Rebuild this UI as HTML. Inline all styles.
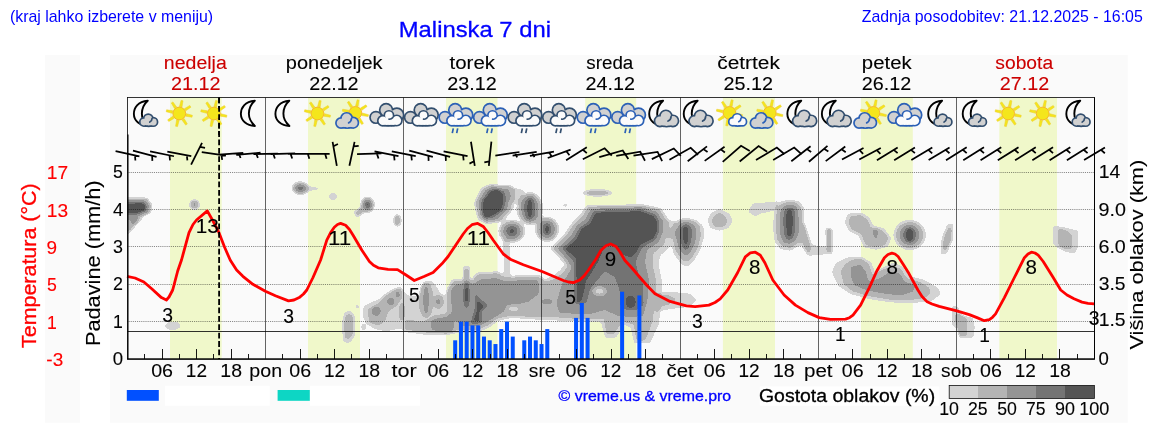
<!DOCTYPE html>
<html lang="sl"><head><meta charset="utf-8"><title>Malinska 7 dni</title>
<style>html,body{margin:0;padding:0;background:#fff;}body{width:1152px;height:443px;overflow:hidden;position:relative;}svg{position:absolute;left:0;top:0;display:block;will-change:transform;opacity:0.999;}text{font-family:"Liberation Sans",sans-serif;}</style></head><body>
<svg width="1152" height="443" viewBox="0 0 1152 443">
<defs>
<filter id="cf2" x="0" y="0" width="1152" height="443" filterUnits="userSpaceOnUse" color-interpolation-filters="sRGB">
<feGaussianBlur stdDeviation="1.3"/>
<feColorMatrix type="matrix" values="0 0 0 1 0  0 0 0 1 0  0 0 0 1 0  0 0 0 1 0"/>
<feComponentTransfer><feFuncR type="discrete" tableValues="1.0000 1.0000 0.8275 0.8275 0.8275 0.7059 0.7059 0.7059 0.7059 0.7059 0.5804 0.5804 0.5804 0.5804 0.5804 0.4549 0.4549 0.4549 0.3333 0.3333"/><feFuncG type="discrete" tableValues="1.0000 1.0000 0.8275 0.8275 0.8275 0.7059 0.7059 0.7059 0.7059 0.7059 0.5804 0.5804 0.5804 0.5804 0.5804 0.4549 0.4549 0.4549 0.3333 0.3333"/><feFuncB type="discrete" tableValues="1.0000 1.0000 0.8275 0.8275 0.8275 0.7059 0.7059 0.7059 0.7059 0.7059 0.5804 0.5804 0.5804 0.5804 0.5804 0.4549 0.4549 0.4549 0.3333 0.3333"/><feFuncA type="discrete" tableValues="0 0 1 1 1 1 1 1 1 1 1 1 1 1 1 1 1 1 1 1"/></feComponentTransfer>
</filter>
<clipPath id="pc"><rect x="127.5" y="97.5" width="967" height="261.5"/></clipPath>
<g id="moon"><path d="M 6.4,-12.8 C -3.5,-12.3 -7.6,-5.5 -7.5,0.5 C -7.4,7 -2,12.0 6.5,12.5 C 2.0,8.3 0.4,4 0.5,0 C 0.6,-5 2.4,-9.3 6.4,-12.8 Z" fill="none" stroke="#000" stroke-width="1.9" stroke-linejoin="round"/></g>
<g id="sun"><polygon points="2.71,-6.48 3.72,-12.7 1.77,-13.12 0.16,-7.02" fill="#f4e61c" stroke="#ecca2c" stroke-width="0.5" stroke-linejoin="round"/><polygon points="6.49,-2.67 11.62,-6.35 10.53,-8.03 5.08,-4.85" fill="#f4e61c" stroke="#ecca2c" stroke-width="0.5" stroke-linejoin="round"/><polygon points="6.48,2.71 12.7,3.72 13.12,1.77 7.02,0.16" fill="#f4e61c" stroke="#ecca2c" stroke-width="0.5" stroke-linejoin="round"/><polygon points="2.67,6.49 6.35,11.62 8.03,10.53 4.85,5.08" fill="#f4e61c" stroke="#ecca2c" stroke-width="0.5" stroke-linejoin="round"/><polygon points="-2.71,6.48 -3.72,12.7 -1.77,13.12 -0.16,7.02" fill="#f4e61c" stroke="#ecca2c" stroke-width="0.5" stroke-linejoin="round"/><polygon points="-6.49,2.67 -11.62,6.35 -10.53,8.03 -5.08,4.85" fill="#f4e61c" stroke="#ecca2c" stroke-width="0.5" stroke-linejoin="round"/><polygon points="-6.48,-2.71 -12.7,-3.72 -13.12,-1.77 -7.02,-0.16" fill="#f4e61c" stroke="#ecca2c" stroke-width="0.5" stroke-linejoin="round"/><polygon points="-2.67,-6.49 -6.35,-11.62 -8.03,-10.53 -4.85,-5.08" fill="#f4e61c" stroke="#ecca2c" stroke-width="0.5" stroke-linejoin="round"/><circle cx="0" cy="0" r="6.4" fill="#f4e61c" stroke="#f6a91e" stroke-width="0.8"/></g>
<g id="moonsc"><g transform="translate(-3.4,0)"><path d="M 6.4,-12.8 C -3.5,-12.3 -7.6,-5.5 -7.5,0.5 C -7.4,7 -2,12.0 6.5,12.5 C 2.0,8.3 0.4,4 0.5,0 C 0.6,-5 2.4,-9.3 6.4,-12.8 Z" fill="none" stroke="#000" stroke-width="1.9" stroke-linejoin="round"/></g><g transform="translate(3.9,6.7)"><circle cx="-4.75" cy="1.87" r="3.31" fill="#324e6e" stroke="#324e6e" stroke-width="3.4"/><circle cx="-0.43" cy="-1.58" r="3.74" fill="#324e6e" stroke="#324e6e" stroke-width="3.4"/><circle cx="4.61" cy="1.73" r="3.46" fill="#324e6e" stroke="#324e6e" stroke-width="3.4"/><circle cx="0" cy="2.59" r="2.74" fill="#324e6e" stroke="#324e6e" stroke-width="3.4"/><circle cx="-2.16" cy="2.3" r="2.74" fill="#324e6e" stroke="#324e6e" stroke-width="3.4"/><circle cx="2.16" cy="2.3" r="2.74" fill="#324e6e" stroke="#324e6e" stroke-width="3.4"/><circle cx="-4.75" cy="1.87" r="3.31" fill="#d1d1d1"/><circle cx="-0.43" cy="-1.58" r="3.74" fill="#d1d1d1"/><circle cx="4.61" cy="1.73" r="3.46" fill="#d1d1d1"/><circle cx="0" cy="2.59" r="2.74" fill="#d1d1d1"/><circle cx="-2.16" cy="2.3" r="2.74" fill="#d1d1d1"/><circle cx="2.16" cy="2.3" r="2.74" fill="#d1d1d1"/><path d="M 3.31,-1.48 A 3.74,3.74 0 0 1 1.11,1.83" fill="none" stroke="#324e6e" stroke-width="1.7" stroke-linecap="round"/></g></g>
<g id="moonbc"><g transform="translate(-6.1,0)"><path d="M 6.4,-12.8 C -3.5,-12.3 -7.6,-5.5 -7.5,0.5 C -7.4,7 -2,12.0 6.5,12.5 C 2.0,8.3 0.4,4 0.5,0 C 0.6,-5 2.4,-9.3 6.4,-12.8 Z" fill="none" stroke="#000" stroke-width="1.9" stroke-linejoin="round"/></g><g transform="translate(3.7,5.0)"><circle cx="-6.6" cy="2.6" r="4.6" fill="#324e6e" stroke="#324e6e" stroke-width="3.4"/><circle cx="-0.6" cy="-2.2" r="5.2" fill="#324e6e" stroke="#324e6e" stroke-width="3.4"/><circle cx="6.4" cy="2.4" r="4.8" fill="#324e6e" stroke="#324e6e" stroke-width="3.4"/><circle cx="0" cy="3.6" r="3.8" fill="#324e6e" stroke="#324e6e" stroke-width="3.4"/><circle cx="-3" cy="3.2" r="3.8" fill="#324e6e" stroke="#324e6e" stroke-width="3.4"/><circle cx="3" cy="3.2" r="3.8" fill="#324e6e" stroke="#324e6e" stroke-width="3.4"/><circle cx="-6.6" cy="2.6" r="4.6" fill="#d1d1d1"/><circle cx="-0.6" cy="-2.2" r="5.2" fill="#d1d1d1"/><circle cx="6.4" cy="2.4" r="4.8" fill="#d1d1d1"/><circle cx="0" cy="3.6" r="3.8" fill="#d1d1d1"/><circle cx="-3" cy="3.2" r="3.8" fill="#d1d1d1"/><circle cx="3" cy="3.2" r="3.8" fill="#d1d1d1"/><path d="M 4.6,-2.05 A 5.2,5.2 0 0 1 1.54,2.54" fill="none" stroke="#324e6e" stroke-width="1.7" stroke-linecap="round"/></g></g>
<g id="suncl"><g transform="translate(3.4,-0.6)"><use href="#sun" xlink:href="#sun"/></g><g transform="translate(-4.8,7.0)"><circle cx="-6.14" cy="2.42" r="4.28" fill="#2b60b6" stroke="#2b60b6" stroke-width="3.4"/><circle cx="-0.56" cy="-2.05" r="4.84" fill="#2b60b6" stroke="#2b60b6" stroke-width="3.4"/><circle cx="5.95" cy="2.23" r="4.46" fill="#2b60b6" stroke="#2b60b6" stroke-width="3.4"/><circle cx="0" cy="3.35" r="3.53" fill="#2b60b6" stroke="#2b60b6" stroke-width="3.4"/><circle cx="-2.79" cy="2.98" r="3.53" fill="#2b60b6" stroke="#2b60b6" stroke-width="3.4"/><circle cx="2.79" cy="2.98" r="3.53" fill="#2b60b6" stroke="#2b60b6" stroke-width="3.4"/><circle cx="-6.14" cy="2.42" r="4.28" fill="#d1d1d1"/><circle cx="-0.56" cy="-2.05" r="4.84" fill="#d1d1d1"/><circle cx="5.95" cy="2.23" r="4.46" fill="#d1d1d1"/><circle cx="0" cy="3.35" r="3.53" fill="#d1d1d1"/><circle cx="-2.79" cy="2.98" r="3.53" fill="#d1d1d1"/><circle cx="2.79" cy="2.98" r="3.53" fill="#d1d1d1"/><path d="M 4.28,-1.91 A 4.84,4.84 0 0 1 1.43,2.36" fill="none" stroke="#2b60b6" stroke-width="1.7" stroke-linecap="round"/></g></g>
<g id="sunwc"><g transform="translate(-2.4,-0.6)"><use href="#sun" xlink:href="#sun"/></g><g transform="translate(5.75,6.4)"><circle cx="-4.75" cy="1.87" r="3.31" fill="#2b60b6" stroke="#2b60b6" stroke-width="3.4"/><circle cx="-0.43" cy="-1.58" r="3.74" fill="#2b60b6" stroke="#2b60b6" stroke-width="3.4"/><circle cx="4.61" cy="1.73" r="3.46" fill="#2b60b6" stroke="#2b60b6" stroke-width="3.4"/><circle cx="0" cy="2.59" r="2.74" fill="#2b60b6" stroke="#2b60b6" stroke-width="3.4"/><circle cx="-2.16" cy="2.3" r="2.74" fill="#2b60b6" stroke="#2b60b6" stroke-width="3.4"/><circle cx="2.16" cy="2.3" r="2.74" fill="#2b60b6" stroke="#2b60b6" stroke-width="3.4"/><circle cx="-4.75" cy="1.87" r="3.31" fill="#fbfbfb"/><circle cx="-0.43" cy="-1.58" r="3.74" fill="#fbfbfb"/><circle cx="4.61" cy="1.73" r="3.46" fill="#fbfbfb"/><circle cx="0" cy="2.59" r="2.74" fill="#fbfbfb"/><circle cx="-2.16" cy="2.3" r="2.74" fill="#fbfbfb"/><circle cx="2.16" cy="2.3" r="2.74" fill="#fbfbfb"/><path d="M 3.31,-1.48 A 3.74,3.74 0 0 1 1.11,1.83" fill="none" stroke="#2b60b6" stroke-width="1.7" stroke-linecap="round"/></g></g>
<g id="ovn"><circle cx="-10.6" cy="3.9" r="5" fill="#324e6e" stroke="#324e6e" stroke-width="3.4"/><circle cx="-0.4" cy="-3.4" r="5.6" fill="#324e6e" stroke="#324e6e" stroke-width="3.4"/><circle cx="10.3" cy="1.4" r="6" fill="#324e6e" stroke="#324e6e" stroke-width="3.4"/><circle cx="0" cy="4.6" r="5.2" fill="#324e6e" stroke="#324e6e" stroke-width="3.4"/><circle cx="5" cy="2" r="5" fill="#324e6e" stroke="#324e6e" stroke-width="3.4"/><circle cx="-10.6" cy="3.9" r="5" fill="#d1d1d1"/><circle cx="-0.4" cy="-3.4" r="5.6" fill="#d1d1d1"/><circle cx="10.3" cy="1.4" r="6" fill="#d1d1d1"/><circle cx="0" cy="4.6" r="5.2" fill="#d1d1d1"/><circle cx="5" cy="2" r="5" fill="#d1d1d1"/><circle cx="-3.6" cy="7.2" r="4.3" fill="#324e6e" stroke="#324e6e" stroke-width="3.4"/><circle cx="2.4" cy="1.9" r="3.8" fill="#324e6e" stroke="#324e6e" stroke-width="3.4"/><circle cx="10.2" cy="7" r="4.4" fill="#324e6e" stroke="#324e6e" stroke-width="3.4"/><circle cx="3.2" cy="8" r="3.6" fill="#324e6e" stroke="#324e6e" stroke-width="3.4"/><circle cx="0" cy="8" r="3.6" fill="#324e6e" stroke="#324e6e" stroke-width="3.4"/><circle cx="6.6" cy="8" r="3.6" fill="#324e6e" stroke="#324e6e" stroke-width="3.4"/><circle cx="-3.6" cy="7.2" r="4.3" fill="#fbfbfb"/><circle cx="2.4" cy="1.9" r="3.8" fill="#fbfbfb"/><circle cx="10.2" cy="7" r="4.4" fill="#fbfbfb"/><circle cx="3.2" cy="8" r="3.6" fill="#fbfbfb"/><circle cx="0" cy="8" r="3.6" fill="#fbfbfb"/><circle cx="6.6" cy="8" r="3.6" fill="#fbfbfb"/><path d="M 6.08,4.31 A 3.8,3.8 0 0 1 2.52,5.7" fill="none" stroke="#324e6e" stroke-width="1.7" stroke-linecap="round"/></g>
<g id="ovd"><circle cx="-10.6" cy="3.9" r="5" fill="#2b60b6" stroke="#2b60b6" stroke-width="3.4"/><circle cx="-0.4" cy="-3.4" r="5.6" fill="#2b60b6" stroke="#2b60b6" stroke-width="3.4"/><circle cx="10.3" cy="1.4" r="6" fill="#2b60b6" stroke="#2b60b6" stroke-width="3.4"/><circle cx="0" cy="4.6" r="5.2" fill="#2b60b6" stroke="#2b60b6" stroke-width="3.4"/><circle cx="5" cy="2" r="5" fill="#2b60b6" stroke="#2b60b6" stroke-width="3.4"/><circle cx="-10.6" cy="3.9" r="5" fill="#d1d1d1"/><circle cx="-0.4" cy="-3.4" r="5.6" fill="#d1d1d1"/><circle cx="10.3" cy="1.4" r="6" fill="#d1d1d1"/><circle cx="0" cy="4.6" r="5.2" fill="#d1d1d1"/><circle cx="5" cy="2" r="5" fill="#d1d1d1"/><circle cx="-3.6" cy="7.2" r="4.3" fill="#2b60b6" stroke="#2b60b6" stroke-width="3.4"/><circle cx="2.4" cy="1.9" r="3.8" fill="#2b60b6" stroke="#2b60b6" stroke-width="3.4"/><circle cx="10.2" cy="7" r="4.4" fill="#2b60b6" stroke="#2b60b6" stroke-width="3.4"/><circle cx="3.2" cy="8" r="3.6" fill="#2b60b6" stroke="#2b60b6" stroke-width="3.4"/><circle cx="0" cy="8" r="3.6" fill="#2b60b6" stroke="#2b60b6" stroke-width="3.4"/><circle cx="6.6" cy="8" r="3.6" fill="#2b60b6" stroke="#2b60b6" stroke-width="3.4"/><circle cx="-3.6" cy="7.2" r="4.3" fill="#fbfbfb"/><circle cx="2.4" cy="1.9" r="3.8" fill="#fbfbfb"/><circle cx="10.2" cy="7" r="4.4" fill="#fbfbfb"/><circle cx="3.2" cy="8" r="3.6" fill="#fbfbfb"/><circle cx="0" cy="8" r="3.6" fill="#fbfbfb"/><circle cx="6.6" cy="8" r="3.6" fill="#fbfbfb"/><path d="M 6.08,4.31 A 3.8,3.8 0 0 1 2.52,5.7" fill="none" stroke="#2b60b6" stroke-width="1.7" stroke-linecap="round"/></g>
<g id="ovnr"><circle cx="-10.6" cy="3.9" r="5" fill="#324e6e" stroke="#324e6e" stroke-width="3.4"/><circle cx="-0.4" cy="-3.4" r="5.6" fill="#324e6e" stroke="#324e6e" stroke-width="3.4"/><circle cx="10.3" cy="1.4" r="6" fill="#324e6e" stroke="#324e6e" stroke-width="3.4"/><circle cx="0" cy="4.6" r="5.2" fill="#324e6e" stroke="#324e6e" stroke-width="3.4"/><circle cx="5" cy="2" r="5" fill="#324e6e" stroke="#324e6e" stroke-width="3.4"/><circle cx="-10.6" cy="3.9" r="5" fill="#d1d1d1"/><circle cx="-0.4" cy="-3.4" r="5.6" fill="#d1d1d1"/><circle cx="10.3" cy="1.4" r="6" fill="#d1d1d1"/><circle cx="0" cy="4.6" r="5.2" fill="#d1d1d1"/><circle cx="5" cy="2" r="5" fill="#d1d1d1"/><circle cx="-3.6" cy="7.2" r="4.3" fill="#324e6e" stroke="#324e6e" stroke-width="3.4"/><circle cx="2.4" cy="1.9" r="3.8" fill="#324e6e" stroke="#324e6e" stroke-width="3.4"/><circle cx="10.2" cy="7" r="4.4" fill="#324e6e" stroke="#324e6e" stroke-width="3.4"/><circle cx="3.2" cy="8" r="3.6" fill="#324e6e" stroke="#324e6e" stroke-width="3.4"/><circle cx="0" cy="8" r="3.6" fill="#324e6e" stroke="#324e6e" stroke-width="3.4"/><circle cx="6.6" cy="8" r="3.6" fill="#324e6e" stroke="#324e6e" stroke-width="3.4"/><circle cx="-3.6" cy="7.2" r="4.3" fill="#fbfbfb"/><circle cx="2.4" cy="1.9" r="3.8" fill="#fbfbfb"/><circle cx="10.2" cy="7" r="4.4" fill="#fbfbfb"/><circle cx="3.2" cy="8" r="3.6" fill="#fbfbfb"/><circle cx="0" cy="8" r="3.6" fill="#fbfbfb"/><circle cx="6.6" cy="8" r="3.6" fill="#fbfbfb"/><path d="M 6.08,4.31 A 3.8,3.8 0 0 1 2.52,5.7" fill="none" stroke="#324e6e" stroke-width="1.7" stroke-linecap="round"/><path d="M -2.3,14.8 L -3.3,19.6 M 2.1,14.8 L 1.1,19.6" stroke="#324e6e" stroke-width="1.7" fill="none"/></g>
<g id="ovdr"><circle cx="-10.6" cy="3.9" r="5" fill="#2b60b6" stroke="#2b60b6" stroke-width="3.4"/><circle cx="-0.4" cy="-3.4" r="5.6" fill="#2b60b6" stroke="#2b60b6" stroke-width="3.4"/><circle cx="10.3" cy="1.4" r="6" fill="#2b60b6" stroke="#2b60b6" stroke-width="3.4"/><circle cx="0" cy="4.6" r="5.2" fill="#2b60b6" stroke="#2b60b6" stroke-width="3.4"/><circle cx="5" cy="2" r="5" fill="#2b60b6" stroke="#2b60b6" stroke-width="3.4"/><circle cx="-10.6" cy="3.9" r="5" fill="#d1d1d1"/><circle cx="-0.4" cy="-3.4" r="5.6" fill="#d1d1d1"/><circle cx="10.3" cy="1.4" r="6" fill="#d1d1d1"/><circle cx="0" cy="4.6" r="5.2" fill="#d1d1d1"/><circle cx="5" cy="2" r="5" fill="#d1d1d1"/><circle cx="-3.6" cy="7.2" r="4.3" fill="#2b60b6" stroke="#2b60b6" stroke-width="3.4"/><circle cx="2.4" cy="1.9" r="3.8" fill="#2b60b6" stroke="#2b60b6" stroke-width="3.4"/><circle cx="10.2" cy="7" r="4.4" fill="#2b60b6" stroke="#2b60b6" stroke-width="3.4"/><circle cx="3.2" cy="8" r="3.6" fill="#2b60b6" stroke="#2b60b6" stroke-width="3.4"/><circle cx="0" cy="8" r="3.6" fill="#2b60b6" stroke="#2b60b6" stroke-width="3.4"/><circle cx="6.6" cy="8" r="3.6" fill="#2b60b6" stroke="#2b60b6" stroke-width="3.4"/><circle cx="-3.6" cy="7.2" r="4.3" fill="#fbfbfb"/><circle cx="2.4" cy="1.9" r="3.8" fill="#fbfbfb"/><circle cx="10.2" cy="7" r="4.4" fill="#fbfbfb"/><circle cx="3.2" cy="8" r="3.6" fill="#fbfbfb"/><circle cx="0" cy="8" r="3.6" fill="#fbfbfb"/><circle cx="6.6" cy="8" r="3.6" fill="#fbfbfb"/><path d="M 6.08,4.31 A 3.8,3.8 0 0 1 2.52,5.7" fill="none" stroke="#2b60b6" stroke-width="1.7" stroke-linecap="round"/><path d="M -2.3,14.8 L -3.3,19.6 M 2.1,14.8 L 1.1,19.6" stroke="#2b60b6" stroke-width="1.7" fill="none"/></g>
</defs>
<rect x="45" y="55" width="34.9" height="367.8" fill="#fafafa"/>
<rect x="110" y="55" width="1017.8" height="367.8" fill="#fafafa"/>
<rect x="170" y="97.5" width="51.7" height="261.5" fill="#f0f8ca"/>
<rect x="308" y="97.5" width="52" height="261.5" fill="#f0f8ca"/>
<rect x="446" y="97.5" width="51.5" height="261.5" fill="#f0f8ca"/>
<rect x="585.2" y="97.5" width="51" height="261.5" fill="#f0f8ca"/>
<rect x="722.9" y="97.5" width="52.1" height="261.5" fill="#f0f8ca"/>
<rect x="861" y="97.5" width="51.8" height="261.5" fill="#f0f8ca"/>
<rect x="999.3" y="97.5" width="57.7" height="261.5" fill="#f0f8ca"/>
<g clip-path="url(#pc)"><g filter="url(#cf2)" fill="#000"><polygon points="124,197.5 147,197.5 152.5,204.5 151,213.5 142,216 124,216" fill-opacity="0.18"/><polygon points="124,199 146,198.88 150.75,204.88 149.38,212.88 141,215.07 124,215.12" fill-opacity="0.24"/><polygon points="124,200.5 145,200.25 149,205.25 147.75,212.25 140,214.15 124,214.25" fill-opacity="0.4"/><polygon points="124,202 144,201.62 147.25,205.62 146.12,211.62 139,213.23 124,213.38" fill-opacity="0.53"/><polygon points="124,203.5 143,203 145.5,206 144.5,211 138,212.3 124,212.5" fill-opacity="0.83"/><polygon points="124,212 147,212 141,221 133,229 127.5,235 124,235" fill-opacity="0.18"/><polygon points="124,213 142,213 137,222 130,230 124,232" fill-opacity="0.24"/><polygon points="124,210 138.5,212 138,221 132.5,225 129.5,219 124,222" fill-opacity="0.4"/><ellipse cx="194.5" cy="204.6" rx="5.6" ry="5.6" fill-opacity="0.18"/><ellipse cx="194.5" cy="204.6" rx="3.6" ry="3.8" fill-opacity="0.24"/><ellipse cx="194.5" cy="204.6" rx="1.4" ry="2" fill-opacity="0.4"/><polygon points="163.4,326.6 168.6,321.8 177.4,321.8 181.8,326.4 176.4,329.6 172.5,330.6 168.6,329.6" fill-opacity="0.18"/><ellipse cx="300.3" cy="188.2" rx="8.8" ry="7" fill-opacity="0.18"/><ellipse cx="300.3" cy="188.2" rx="7" ry="5.4" fill-opacity="0.24"/><ellipse cx="300.3" cy="188.2" rx="5.4" ry="4" fill-opacity="0.4"/><ellipse cx="300.3" cy="188.2" rx="3.4" ry="2.2" fill-opacity="0.53"/><polygon points="305,185.5 323.5,188.6 305,192" fill-opacity="0.18"/><polygon points="333,191.8 338.6,196.8 333.4,201.4 327.6,196.4" fill-opacity="0.18"/><ellipse cx="367.6" cy="204.8" rx="7.4" ry="8.2" fill-opacity="0.18"/><ellipse cx="367.6" cy="204.8" rx="5.8" ry="6.6" fill-opacity="0.24"/><ellipse cx="367.6" cy="204.8" rx="4.4" ry="5.2" fill-opacity="0.4"/><ellipse cx="367.6" cy="204.8" rx="3" ry="3.8" fill-opacity="0.53"/><ellipse cx="367.6" cy="204.8" rx="1.2" ry="2" fill-opacity="0.83"/><polygon points="362,205 367,211 357.5,218 352.8,212.5" fill-opacity="0.18"/><polygon points="361,208.5 363.5,211.5 357.3,215.6 355.4,212.8" fill-opacity="0.24"/><polygon points="345,311.5 352,311 355.6,318 355.6,335 350,343 343.5,342.5 341.8,330 342.5,318" fill-opacity="0.18"/><polygon points="346.5,315 351,314.5 353.2,320 353,333 349,338.5 345.5,338 344.5,328 345,319" fill-opacity="0.24"/><polygon points="363.42,305.93 370.11,302.59 380.13,298.41 385.15,293.4 393.5,288.38 400.19,286.71 404.36,290.89 407.21,295.07 413.56,296.4 420.24,295.07 421.08,286.71 425.25,280.86 431.94,280.86 436.95,286.71 440.29,293.4 445.31,295.07 447.81,289.22 452.83,284.2 455.33,283.37 455.33,333.5 446.98,334.84 423.58,334.84 405.2,332.17 400.19,328.82 385.15,331.5 373.45,328.82 365.93,323.48 362.59,316.79" fill-opacity="0.18"/><polygon points="367.6,310.11 378.46,303.42 385.15,296.74 395.17,290.05 401.02,288.72 402.19,296.74 396.84,305.09 387.65,311.78 385.15,320.13 378.46,325.15 370.11,322.14" fill-opacity="0.24"/><ellipse cx="401.9" cy="311.8" rx="1" ry="1" fill-opacity="0.18"/><ellipse cx="401.9" cy="311.8" rx="2.8" ry="8.8" fill-opacity="0.24"/><ellipse cx="426.1" cy="300.1" rx="1" ry="1" fill-opacity="0.18"/><ellipse cx="426.1" cy="300.1" rx="7.2" ry="17.5" fill-opacity="0.24"/><ellipse cx="426.1" cy="300.1" rx="2.8" ry="14" fill-opacity="0.4"/><ellipse cx="426.1" cy="300.1" rx="1.1" ry="2.4" fill-opacity="0.53"/><ellipse cx="438.3" cy="301.8" rx="1" ry="1" fill-opacity="0.18"/><ellipse cx="438.3" cy="301.8" rx="5.2" ry="6.8" fill-opacity="0.24"/><ellipse cx="438.3" cy="301.8" rx="2.3" ry="2.6" fill-opacity="0.4"/><ellipse cx="438.3" cy="301.8" rx="1" ry="1.1" fill-opacity="0.53"/><polygon points="405.2,320.13 423.58,321.8 426.93,320.13 433.61,315.96 446.98,313.78 452.83,313.78 452.83,332.83 446.98,333.5 428.6,332.67 423.58,331.5 405.2,329.32" fill-opacity="0.24"/><polygon points="430.27,320.97 436.95,318.46 446.98,316.79 452.83,316.79 452.83,331.16 446.98,331.5 431.94,330.16" fill-opacity="0.4"/><ellipse cx="376.2" cy="311.2" rx="1" ry="1" fill-opacity="0.18"/><ellipse cx="376.2" cy="311.2" rx="1" ry="1" fill-opacity="0.24"/><ellipse cx="376.2" cy="311.2" rx="4.6" ry="4.8" fill-opacity="0.4"/><ellipse cx="390.7" cy="301.6" rx="1" ry="1" fill-opacity="0.18"/><ellipse cx="390.7" cy="301.6" rx="1" ry="1" fill-opacity="0.24"/><ellipse cx="390.7" cy="301.6" rx="3.6" ry="3.8" fill-opacity="0.4"/><ellipse cx="390.7" cy="301.6" rx="1.2" ry="1.2" fill-opacity="0.53"/><ellipse cx="397.7" cy="294.4" rx="1" ry="1" fill-opacity="0.18"/><ellipse cx="397.7" cy="294.4" rx="1" ry="1" fill-opacity="0.24"/><ellipse cx="397.7" cy="294.4" rx="2" ry="3" fill-opacity="0.4"/><ellipse cx="357.2" cy="306.8" rx="2.2" ry="2.2" fill-opacity="0.18"/><ellipse cx="363.6" cy="327" rx="2.6" ry="3.4" fill-opacity="0.18"/><ellipse cx="397.4" cy="220.5" rx="4.4" ry="6.4" fill-opacity="0.18"/><ellipse cx="397.4" cy="220.5" rx="2.6" ry="4.4" fill-opacity="0.24"/><polygon points="473.6,203.4 480.3,188.4 488.6,184.2 510.3,185 515.4,189.2 513.7,208.4 503.7,221.8 487,224.3 477.8,220.1" fill-opacity="0.18"/><polygon points="476.1,202.57 483,189.03 490.7,185.45 508.43,187.1 512.48,192.32 510.35,209.03 500.35,220.55 486.15,222.62 478.93,217.18" fill-opacity="0.24"/><polygon points="478.6,201.75 485.7,189.65 492.8,186.7 506.55,189.2 509.55,195.45 507,209.65 497,219.3 485.3,220.95 480.05,214.25" fill-opacity="0.4"/><polygon points="481.1,200.93 488.4,190.28 494.9,187.95 504.68,191.3 506.62,198.57 503.65,210.28 493.65,218.05 484.45,219.28 481.18,211.32" fill-opacity="0.53"/><polygon points="483.6,200.1 491.1,190.9 497,189.2 502.8,193.4 503.7,201.7 500.3,210.9 490.3,216.8 483.6,217.6 482.3,208.4" fill-opacity="0.83"/><ellipse cx="529.8" cy="208.6" rx="13.6" ry="16.6" fill-opacity="0.18"/><ellipse cx="529.8" cy="208.6" rx="11" ry="14.8" fill-opacity="0.24"/><ellipse cx="529.8" cy="208.6" rx="8.6" ry="13.2" fill-opacity="0.4"/><ellipse cx="529.8" cy="208.6" rx="6.2" ry="11.6" fill-opacity="0.53"/><ellipse cx="529.8" cy="208.6" rx="2.6" ry="9.8" fill-opacity="0.83"/><polygon points="505,186 524,190 524,204 510,203" fill-opacity="0.18"/><ellipse cx="511.9" cy="231.2" rx="13.6" ry="11.8" fill-opacity="0.18"/><ellipse cx="511.9" cy="231.2" rx="11.2" ry="9.8" fill-opacity="0.24"/><ellipse cx="511.9" cy="231.2" rx="8.8" ry="7.8" fill-opacity="0.4"/><ellipse cx="511.9" cy="231.2" rx="6.2" ry="5.8" fill-opacity="0.53"/><ellipse cx="511.9" cy="231.2" rx="2.2" ry="2.6" fill-opacity="0.83"/><ellipse cx="547.1" cy="229.3" rx="12.2" ry="12.6" fill-opacity="0.18"/><ellipse cx="547.1" cy="229.3" rx="10" ry="10.8" fill-opacity="0.24"/><ellipse cx="547.1" cy="229.3" rx="7.8" ry="8.8" fill-opacity="0.4"/><ellipse cx="547.1" cy="229.3" rx="4.8" ry="6.6" fill-opacity="0.53"/><ellipse cx="547.1" cy="229.3" rx="1.8" ry="4.2" fill-opacity="0.83"/><polygon points="534,212 545,218 545,226 535,224" fill-opacity="0.18"/><polygon points="503,238 509.5,238 510.3,276 503.7,276" fill-opacity="0.18"/><polygon points="462.7,266 470.2,266 470.2,286 462.7,286" fill-opacity="0.18"/><polygon points="464.5,269 468.6,269 468.6,286 464.5,286" fill-opacity="0.24"/><polygon points="447,288 452,279 472,278.5 476,272.5 498,271 506,275.5 540,275 546,280 546,320 530,319.5 512,318 498,321 489,328 476,333 456,333 447,329" fill-opacity="0.18"/><path d="M449,290 L454,281.5 L473,281 L477.5,275 L497,273.5 L505,278 L539,277.5 L546,282 L546,317 L530,316.5 L512,315 L497,318 L488,325 L476,330 L458,330 L450,326 Z M519.2,308.9 L518.65,310.03 L517.09,310.93 L514.85,311.43 L512.35,311.43 L510.11,310.93 L508.55,310.03 L508,308.9 L508.55,307.77 L510.11,306.87 L512.35,306.37 L514.85,306.37 L517.09,306.87 L518.65,307.77 Z" fill-rule="evenodd" fill-opacity="0.24"/><polygon points="452,292 457,284 474,283.5 480,279.5 496,278 504,281 537,279.8 539.2,284 538.8,293.7 528.6,301.8 520.2,303.8 506.8,305 503.5,312.1 495.1,317.1 487,322 476,326.5 461,326.5 454,318 453,305" fill-opacity="0.4"/><ellipse cx="547" cy="301.6" rx="1" ry="1" fill-opacity="0.18"/><ellipse cx="547" cy="301.6" rx="1" ry="1" fill-opacity="0.24"/><ellipse cx="547" cy="301.6" rx="6" ry="2.6" fill-opacity="0.4"/><ellipse cx="466.5" cy="295.5" rx="1" ry="1" fill-opacity="0.18"/><ellipse cx="466.5" cy="295.5" rx="1" ry="1" fill-opacity="0.24"/><ellipse cx="466.5" cy="295.5" rx="1" ry="1" fill-opacity="0.4"/><ellipse cx="466.5" cy="295.5" rx="3.8" ry="13.5" fill-opacity="0.53"/><ellipse cx="466.5" cy="295.5" rx="1.9" ry="7.2" fill-opacity="0.83"/><ellipse cx="466.8" cy="292.5" rx="1" ry="1" fill-opacity="0.18"/><ellipse cx="466.8" cy="292.5" rx="1" ry="1" fill-opacity="0.24"/><ellipse cx="466.8" cy="292.5" rx="1" ry="1" fill-opacity="0.4"/><ellipse cx="466.8" cy="292.5" rx="1" ry="1" fill-opacity="0.53"/><ellipse cx="466.8" cy="292.5" rx="1.6" ry="5.5" fill-opacity="0.83"/><polygon points="475,293 488.5,305.4 482,312.1 482,324 469.6,324 474,310.5" fill-opacity="0.53"/><polygon points="477,300 484.5,306 479.5,311 479.5,321 473.5,321 477,310.5" fill-opacity="0.83"/><ellipse cx="597.5" cy="192.9" rx="15.5" ry="3.8" fill-opacity="0.18"/><ellipse cx="597.5" cy="192.9" rx="11" ry="2.2" fill-opacity="0.24"/><ellipse cx="565.3" cy="205.4" rx="3.3" ry="1.3" fill-opacity="0.18"/><polygon points="586,205.2 642.5,204.3 661.5,208 668,218.5 670,232 671,246 660,256 659,266 662,280 661.5,300 659,324 650,343.5 634,343.5 630.5,327.5 624,325 616,338 605,338 601,322.5 590,322 570,321.5 546,320 546,278.5 553,275.5 560,270 564.5,264.5 558,257 549.5,248.5 564,234 572,222.5 580.5,214" fill-opacity="0.18"/><path d="M588.5,207 L642,205.8 L659.5,210 L665,219.5 L666,232 L664,244 L653,253 L652,264 L655.5,280 L655,300 L652,322 L645,340 L637,340.5 L634,324 L622,321 L613.5,334 L607,334 L604,318 L590,318.5 L570,318 L546,316 L546,282.5 L555,279 L563,273.5 L568.5,266 L563,258 L553.5,248.5 L567,235.5 L574.5,224 L583,216.5 Z M604.2,291.2 L603.74,292.41 L602.47,293.39 L600.62,293.93 L598.58,293.93 L596.73,293.39 L595.46,292.41 L595,291.2 L595.46,289.99 L596.73,289.01 L598.58,288.47 L600.62,288.47 L602.47,289.01 L603.74,289.99 Z" fill-rule="evenodd" fill-opacity="0.24"/><path d="M591,208.8 L641.5,207.3 L657.5,212 L662,220.5 L662.5,232 L659,242 L647,250 L645,262 L649,280 L647.5,300 L643,316 L632,317 L618,316 L605,310 L590,314 L570,313.5 L559,312.5 L556.5,303 L559.5,292 L562.5,283 L566.5,276.5 L572,268 L567,259.5 L557.5,248.5 L570,237 L577,225.5 L585.5,219 Z M607.2,291.2 L606.45,293.46 L604.34,295.27 L601.29,296.27 L597.91,296.27 L594.86,295.27 L592.75,293.46 L592,291.2 L592.75,288.94 L594.86,287.13 L597.91,286.13 L601.29,286.13 L604.34,287.13 L606.45,288.94 Z" fill-rule="evenodd" fill-opacity="0.4"/><polygon points="593.5,210.6 641,209 655.5,214 659.5,221 659.5,231.5 656,240 643,247.5 639,255 636,262 639,274 643.5,284 644,305 637,310.5 626,310.5 619.5,305 619,289 614,277 605,272 598,280 590,290 587,303 580,305.5 574,303 574,285 573.5,262 561.5,248.5 573,238.5 579.5,227 588,221.5" fill-opacity="0.53"/><polygon points="596,212.5 640.3,210.9 653.6,215.9 657,221.7 657,230.9 653.6,238.4 640.3,245.1 636.1,252.7 630.2,257.7 622,254 612,243 604,248 598,262 592,272 586,281 584,292 581,302 576.5,302 577,285 576,270 575.9,258.5 565.1,248.5 575.9,240.1 581.8,228.4 590.1,223.4" fill-opacity="0.83"/><ellipse cx="630.6" cy="301.6" rx="1" ry="1" fill-opacity="0.18"/><ellipse cx="630.6" cy="301.6" rx="1" ry="1" fill-opacity="0.24"/><ellipse cx="630.6" cy="301.6" rx="1" ry="1" fill-opacity="0.4"/><ellipse cx="630.6" cy="301.6" rx="1" ry="1" fill-opacity="0.53"/><ellipse cx="630.6" cy="301.6" rx="5.2" ry="6.4" fill-opacity="0.83"/><polygon points="655,293 670,291.5 690,293.5 697,300 690,307 672,309 655,312" fill-opacity="0.18"/><polygon points="655,296.5 668,295.5 676,299.5 668,304.5 655,307" fill-opacity="0.24"/><polygon points="673.42,224.24 678.44,219.23 686.79,217.56 696.82,220.07 703.5,225.92 704.34,236.78 700.16,250.15 693.48,261.84 687.63,266.86 681.78,265.19 673.42,253.49 670.08,240.12 670.08,230.09" fill-opacity="0.18"/><polygon points="675.85,225.29 679.77,221.11 686.46,219.65 694.4,221.74 699.66,226.75 700.37,236.36 697.15,247.64 691.89,257.33 687.21,261.43 682.53,260.01 675.93,250.36 673.26,239.08 673.26,230.3" fill-opacity="0.24"/><polygon points="678.27,226.33 681.11,222.99 686.12,221.74 691.97,223.41 695.82,227.59 696.4,235.94 694.14,245.13 690.3,252.82 686.79,256 683.28,254.83 678.44,247.22 676.43,238.03 676.43,230.51" fill-opacity="0.4"/><polygon points="680.69,227.38 682.45,224.87 685.79,223.83 689.55,225.08 691.97,228.42 692.43,235.52 691.14,242.63 688.71,248.31 686.37,250.56 684.03,249.65 680.94,244.09 679.61,236.99 679.61,230.72" fill-opacity="0.53"/><polygon points="683.11,228.42 683.78,226.75 685.45,225.92 687.13,226.75 688.13,229.26 688.46,235.11 688.13,240.12 687.13,243.8 685.96,245.13 684.79,244.47 683.45,240.96 682.78,235.94 682.78,230.93" fill-opacity="0.83"/><polygon points="662,219 676,221 676,238 664,238" fill-opacity="0.18"/><polygon points="719.5,208.5 729,213 733,221 728.5,228.5 719.5,231 710.5,228.5 707,220.5 711,213" fill-opacity="0.18"/><polygon points="719.5,212.8 725,216.5 727.4,221.5 724,226 719.5,227 714.5,226 711.8,221.5 714,216.5" fill-opacity="0.24"/><polygon points="752.5,203.4 779,201 777,210 760,214 755,216.5 747.8,211.7" fill-opacity="0.18"/><polygon points="773.69,213.38 776.2,205.03 782.05,200.85 790.4,199.68 798.76,200.85 803.77,206.7 804.61,220.07 804.61,235.11 800.43,245.13 790.4,250.98 780.37,249.31 774.53,241.79 772.85,228.42" fill-opacity="0.18"/><polygon points="776.86,213.38 778.91,206.61 783.63,203.15 790.23,202.19 796.92,203.23 800.93,208.16 801.64,220.07 801.56,234.06 798.09,242.84 790.15,247.52 782.21,245.97 777.53,239.08 776.2,226.33" fill-opacity="0.24"/><polygon points="780.04,213.38 781.63,208.2 785.22,205.44 790.07,204.69 795.08,205.61 798.09,209.62 798.67,220.07 798.51,233.02 795.75,240.54 789.9,244.05 784.05,242.63 780.54,236.36 779.54,224.24" fill-opacity="0.4"/><polygon points="783.22,213.38 784.34,209.79 786.81,207.74 789.9,207.2 793.24,207.99 795.25,211.08 795.71,220.07 795.46,231.97 793.41,238.24 789.65,240.58 785.89,239.28 783.55,233.64 782.88,222.16" fill-opacity="0.53"/><polygon points="786.39,213.38 787.06,211.38 788.4,210.04 789.73,209.71 791.4,210.37 792.41,212.55 792.74,220.07 792.41,230.93 791.07,235.94 789.4,237.11 787.73,235.94 786.56,230.93 786.22,220.07" fill-opacity="0.83"/><polygon points="799,222 806,226 812.5,245 827,246.4 825,229 829,227.4 832.8,229 832.8,253.8 808,256 800,244" fill-opacity="0.18"/><polygon points="801,227 804.5,229 810.5,248 809,253.5 804,246" fill-opacity="0.24"/><polygon points="826.8,229.4 831,229.4 831,251.8 826.8,251.8" fill-opacity="0.24"/><polygon points="848,213.5 862,212.5 870,218 873,225.5 884,228 891.5,238 888,247 876,250 864,247.5 858.5,236 849,231.5 844.4,222" fill-opacity="0.18"/><polygon points="851,216.5 861,215.5 867.5,220.5 870.5,228 882,230.5 888,238 885,244.5 876,246.8 866,244.5 861.5,233.5 852,229 848.6,222" fill-opacity="0.24"/><polygon points="872.4,229.3 878.4,229.3 877.5,235 875.6,240.5 873.4,235" fill-opacity="0.4"/><ellipse cx="909.6" cy="235" rx="16.4" ry="15.2" fill-opacity="0.18"/><ellipse cx="909.6" cy="235" rx="13.2" ry="12.6" fill-opacity="0.24"/><ellipse cx="909.6" cy="235" rx="10" ry="10.2" fill-opacity="0.4"/><ellipse cx="909.6" cy="235" rx="6.8" ry="8" fill-opacity="0.53"/><ellipse cx="909.6" cy="235" rx="3.8" ry="6.4" fill-opacity="0.83"/><polygon points="947.5,223.5 953.4,223.5 953,240 946.5,254.5 940.6,254.5 941.4,238" fill-opacity="0.18"/><polygon points="948.6,228 951.4,228 951,239 946,249.5 943.4,249.5 944,239" fill-opacity="0.24"/><polygon points="831.7,272 836,262.5 848,257 862,256.4 871.5,262.5 875,272 885,266 893,262.5 902,266 909,275.5 925,280 938,287.5 941,294 933,300.5 912,303.5 890,302.5 868,299 850,294 838,286" fill-opacity="0.18"/><polygon points="841.2,272 845,264.5 853,260 862,259.5 868.5,264.5 872,275.5 884,269.5 893,266.5 900.5,269 906.5,278.5 920,282.5 929,288 930.3,293.5 925,297.5 908,299.9 888,299 868,295.5 853,291 844,284" fill-opacity="0.24"/><polygon points="850.8,267 860.3,264.8 865.6,271.2 868.8,281.8 881.5,277.6 890,271.2 899.6,273.3 904.9,281.8 915.5,285 913.3,291.4 900.6,295.6 883.6,293.5 866.7,290.3 854,285 850.8,275.5" fill-opacity="0.4"/><polygon points="951.5,306.2 958,306.2 961,315.5 973,317.5 974.9,327 973.5,338 960,338 956.5,329 951.5,325" fill-opacity="0.18"/><polygon points="955.8,313.6 960.5,314.5 966.4,318.5 966.4,336 959.5,336 957.6,327 955.8,322" fill-opacity="0.24"/><polygon points="1053,226 1062,226.5 1071,229 1078.2,230.5 1078.2,248 1074,254 1066,252 1058,248.5 1053,244" fill-opacity="0.18"/><polygon points="1058,229.4 1063,229.8 1068.5,232 1072,236.5 1072,248.6 1066.5,249 1060.5,246.8 1058,243" fill-opacity="0.24"/></g></g>
<line x1="127.5" y1="321.5" x2="1094.5" y2="321.5" stroke="#000" stroke-width="1" stroke-dasharray="0.9 1.0" opacity="0.5"/>
<line x1="127.5" y1="284.5" x2="1094.5" y2="284.5" stroke="#000" stroke-width="1" stroke-dasharray="0.9 1.0" opacity="0.5"/>
<line x1="127.5" y1="246.5" x2="1094.5" y2="246.5" stroke="#000" stroke-width="1" stroke-dasharray="0.9 1.0" opacity="0.5"/>
<line x1="127.5" y1="209.5" x2="1094.5" y2="209.5" stroke="#000" stroke-width="1" stroke-dasharray="0.9 1.0" opacity="0.5"/>
<line x1="127.5" y1="172.5" x2="1094.5" y2="172.5" stroke="#000" stroke-width="1" stroke-dasharray="0.9 1.0" opacity="0.5"/>
<line x1="265.5" y1="97.5" x2="265.5" y2="359" stroke="#000" stroke-width="1" opacity="0.6"/>
<line x1="403.5" y1="97.5" x2="403.5" y2="359" stroke="#000" stroke-width="1" opacity="0.6"/>
<line x1="541.5" y1="97.5" x2="541.5" y2="359" stroke="#000" stroke-width="1" opacity="0.6"/>
<line x1="680.5" y1="97.5" x2="680.5" y2="359" stroke="#000" stroke-width="1" opacity="0.6"/>
<line x1="818.5" y1="97.5" x2="818.5" y2="359" stroke="#000" stroke-width="1" opacity="0.6"/>
<line x1="956.5" y1="97.5" x2="956.5" y2="359" stroke="#000" stroke-width="1" opacity="0.6"/>
<line x1="127.5" y1="331.5" x2="1094.5" y2="331.5" stroke="#000" stroke-width="1" opacity="0.8"/>
<rect x="453.19" y="340.31" width="4" height="18.68" fill="#0050ff"/>
<rect x="458.95" y="321.63" width="4" height="37.37" fill="#0050ff"/>
<rect x="464.7" y="321.63" width="4" height="37.37" fill="#0050ff"/>
<rect x="470.46" y="325.37" width="4" height="33.63" fill="#0050ff"/>
<rect x="476.21" y="325.37" width="4" height="33.63" fill="#0050ff"/>
<rect x="481.97" y="336.58" width="4" height="22.42" fill="#0050ff"/>
<rect x="487.72" y="340.31" width="4" height="18.68" fill="#0050ff"/>
<rect x="493.48" y="344.05" width="4" height="14.95" fill="#0050ff"/>
<rect x="499.24" y="329.1" width="4" height="29.9" fill="#0050ff"/>
<rect x="504.99" y="321.63" width="4" height="37.37" fill="#0050ff"/>
<rect x="510.75" y="336.58" width="4" height="22.42" fill="#0050ff"/>
<rect x="522.26" y="340.31" width="4" height="18.68" fill="#0050ff"/>
<rect x="528.02" y="336.58" width="4" height="22.42" fill="#0050ff"/>
<rect x="533.77" y="340.31" width="4" height="18.68" fill="#0050ff"/>
<rect x="539.53" y="344.05" width="4" height="14.95" fill="#0050ff"/>
<rect x="545.28" y="329.1" width="4" height="29.9" fill="#0050ff"/>
<rect x="574.06" y="317.89" width="4" height="41.11" fill="#0050ff"/>
<rect x="579.82" y="302.94" width="4" height="56.05" fill="#0050ff"/>
<rect x="585.58" y="317.89" width="4" height="41.11" fill="#0050ff"/>
<rect x="620.11" y="291.73" width="4" height="67.27" fill="#0050ff"/>
<rect x="637.38" y="295.47" width="4" height="63.53" fill="#0050ff"/>
<polyline points="127,276.3 135,278 143.9,282 152,289 161.4,297.6 166.4,300 169,297 172.7,290 177.7,271 181.5,260 189,232.7 193,224.5 196.5,220 207.3,210.9 213,221 219,232.7 224.5,247 230.3,260.3 236.6,270 242.9,276.3 252.9,284.3 265.4,291.3 275.4,295.8 288.5,300.9 294,300 299.2,297.6 303.5,294 306.8,290 313,277.5 320.6,260 326.8,240.2 331,232 334.3,227.2 337.5,224.5 340.6,223.4 345.6,225.2 349.5,229.5 353.1,235.2 361.9,250.2 369.4,261.5 373.5,265.3 378.2,267.8 388,269.4 397.5,269.6 406,275 414.3,280.5 424,276.5 433.1,272.5 441.9,263.8 448.1,256.5 463.2,234 467.5,228.5 472,224.7 477.7,223.4 483.2,226.4 488,232.5 493.3,240.2 503.3,254 510.8,259.5 523.3,264.8 542.1,271.5 563.4,280.5 568.5,282 573.5,282.6 579.7,280 584,276 588.5,270 596,259 601,250.2 606,245.7 610.6,244 616,246.5 620,252 624.8,260.3 632.4,268.5 640,277.5 647,285.5 655,293.8 670,301.4 686.4,305.9 695.1,306.6 708.9,305.1 715,302.5 720.2,298.8 727.7,290 737.7,272.5 745.3,256.8 750.3,252.9 755.3,252.2 760.3,255.2 765,263 772.8,280 784.1,295 795.4,305.1 807.9,312.6 819.2,317.6 830.5,319.4 845.5,319.1 849.5,317.7 853,315.1 860.6,305.1 869.3,287.6 876.8,271 884.4,257.7 888,254.5 891.9,253.2 895,254 898.1,256.5 903,264 909.1,273.8 917.9,290 922,296.5 926.7,301.4 932,304 939.2,306.4 956.7,310.9 969.3,314.6 977,317.6 984.3,320.7 989.3,319.6 992.5,317.3 995.6,313.9 1004.4,297.6 1014.4,277.5 1024.4,257.7 1028,254 1031.4,252.2 1035,253 1038.2,255.2 1043.2,261.5 1053.2,277.5 1060.7,290 1067,295 1074,298.8 1082,302.1 1088,303.3 1094.3,303.9" fill="none" stroke="#ff0000" stroke-width="2.8" stroke-linejoin="round" stroke-linecap="butt"/>
<line x1="219.1" y1="97.5" x2="219.1" y2="359" stroke="#000" stroke-width="1.8" stroke-dasharray="5.8 2.6"/>
<rect x="127.5" y="97.5" width="967" height="261.5" fill="none" stroke="#111" stroke-width="0.85"/>
<line x1="127.9" y1="134.5" x2="127.9" y2="359" stroke="#000" stroke-width="1.25"/>
<line x1="127.1" y1="359.1" x2="1094.9" y2="359.1" stroke="#000" stroke-width="1.1"/>
<line x1="1094.5" y1="97.5" x2="1094.5" y2="359" stroke="#000" stroke-width="1.0"/>
<path d="M144.5,359 v-5 M162.5,359 v-10 M179.5,359 v-5 M196.5,359 v-10 M213.5,359 v-5 M231.5,359 v-10 M248.5,359 v-5 M282.5,359 v-5 M300.5,359 v-10 M317.5,359 v-5 M334.5,359 v-10 M351.5,359 v-5 M369.5,359 v-10 M386.5,359 v-5 M421.5,359 v-5 M438.5,359 v-10 M455.5,359 v-5 M472.5,359 v-10 M490.5,359 v-5 M507.5,359 v-10 M524.5,359 v-5 M559.5,359 v-5 M576.5,359 v-10 M593.5,359 v-5 M611.5,359 v-10 M628.5,359 v-5 M645.5,359 v-10 M662.5,359 v-5 M697.5,359 v-5 M714.5,359 v-10 M731.5,359 v-5 M749.5,359 v-10 M766.5,359 v-5 M783.5,359 v-10 M800.5,359 v-5 M835.5,359 v-5 M852.5,359 v-10 M870.5,359 v-5 M887.5,359 v-10 M904.5,359 v-5 M921.5,359 v-10 M939.5,359 v-5 M973.5,359 v-5 M990.5,359 v-10 M1008.5,359 v-5 M1025.5,359 v-10 M1042.5,359 v-5 M1059.5,359 v-10 M1077.5,359 v-5" stroke="#000" stroke-width="1" fill="none" opacity="0.9"/>
<path d="M115.58,151.18 L139.42,156.42 M134.95,155.44 L135.39,160.53 M132.97,150.68 L156.56,156.92 M152.14,155.75 L152.37,160.86 M150.08,151.35 L173.99,156.25 M169.5,155.33 L170.02,160.42 M167.32,151.53 L191.29,156.07 M186.8,155.22 L187.39,160.29 M191.11,164.71 L202.03,142.89 M199.99,146.98 L205.03,147.8 M201.76,152.06 L225.91,155.54 M221.39,154.89 L222.2,159.94 M218.94,154.65 L243.28,152.95 M238.71,153.27 L240.58,158.03 M236.22,154.86 L260.53,152.74 M255.97,153.14 L257.92,157.86 M253.44,154.01 L277.84,153.59 M273.27,153.67 L274.88,158.52 M270.71,154.12 L295.11,153.48 M290.53,153.6 L292.19,158.44 M287.98,153.8 L312.38,153.8 M307.8,153.8 L309.33,158.68 M305.25,153.8 L329.65,153.8 M325.07,153.8 L326.6,158.68 M336.83,165.81 L332.6,141.79 M333.39,146.29 L337.93,143.94 M349.4,165.72 L354.56,141.88 M353.59,146.35 L358.69,145.89 M357.05,154.12 L381.45,153.48 M376.87,153.6 L378.52,158.44 M374.54,151.47 L398.49,156.13 M394,155.25 L394.57,160.34 M391.81,151.47 L415.76,156.13 M411.27,155.25 L411.84,160.34 M409.27,150.64 L432.84,156.96 M428.42,155.77 L428.63,160.88 M426.54,150.64 L450.11,156.96 M445.69,155.77 L445.9,160.88 M443.61,151.47 L467.57,156.13 M463.07,155.25 L463.64,160.34 M470.95,141.75 L474.77,165.85 M474.05,161.33 L469.47,163.6 M491.4,141.67 L488.85,165.93 M489.33,161.38 L484.32,162.39 M495.33,155.6 L519.46,152 M514.93,152.67 L517.16,157.27 M512.61,155.71 L536.71,151.89 M532.19,152.61 L534.46,157.19 M529.91,155.92 L553.94,151.68 M549.44,152.48 L551.79,157.02 M547.73,157.97 L570.66,149.63 M566.36,151.19 L569.46,155.26 M566.11,160.25 L586.82,147.35 M582.94,149.77 L586.81,153.11 M582.83,159.28 L604.63,148.32 L611.74,155.67 M599.27,157.16 L622.73,150.44 L628.35,158.98 M616.25,155.92 L640.28,151.68 L644.98,160.76 M633.49,155.71 L657.59,151.89 L662.12,161.05 M651.82,159.11 L673.79,148.49 L680.78,155.95 M669.45,159.81 L690.69,147.79 L698.15,154.79 M687.69,161.26 L706.99,146.34 M703.37,149.14 L707.56,152.07 M704.67,160.88 L724.54,146.72 M720.81,149.37 L724.89,152.46 M722.71,161.85 L741.04,145.75 L749.77,151.07 M739.66,161.48 L758.62,146.12 L767.14,151.79 M755.98,160.12 L776.85,147.48 L784.51,154.25 M773.17,159.99 L794.19,147.61 L801.77,154.47 M791.32,161.29 L810.57,146.31 M806.96,149.12 L811.16,152.03 M808.94,161.72 L827.49,145.88 M824.01,148.85 L828.34,151.57 M825.7,161.09 L845.26,146.51 M841.6,149.24 L845.73,152.24 M841.98,159.53 L863.52,148.07 M859.48,150.22 L863.12,153.81 M859.25,159.53 L880.79,148.07 M876.75,150.22 L880.39,153.81 M876.91,160.21 L897.67,147.39 M893.77,149.79 L897.63,153.14 M894.17,160.21 L914.93,147.39 M911.04,149.79 L914.9,153.14 M911.34,160.05 L932.3,147.55 M928.37,149.9 L932.18,153.31 M928.63,160.08 L949.55,147.52 M945.63,149.87 L949.45,153.27 M946.01,160.27 L966.7,147.33 M962.82,149.76 L966.7,153.09 M963.28,160.27 L983.97,147.33 M980.09,149.76 L983.97,153.09 M980.55,160.27 L1001.24,147.33 M997.36,149.76 L1001.24,153.09 M997.81,160.27 L1018.51,147.33 M1014.63,149.76 L1018.51,153.09 M1015.08,160.27 L1035.77,147.33 M1031.89,149.76 L1035.77,153.09 M1032.35,160.27 L1053.04,147.33 M1049.16,149.76 L1053.04,153.09 M1049.62,160.27 L1070.31,147.33 M1066.43,149.76 L1070.31,153.09 M1066.89,160.27 L1087.58,147.33 M1083.7,149.76 L1087.58,153.09 M1084.06,160.12 L1104.94,147.48 M1101.02,149.85 L1104.85,153.23" stroke="#000" stroke-width="1.75" fill="none" stroke-linejoin="miter"/>
<use href="#moonsc" xlink:href="#moonsc" x="144.77" y="113.5"/>
<use href="#sun" xlink:href="#sun" x="179.3" y="113.5"/>
<use href="#sun" xlink:href="#sun" x="213.84" y="113.5"/>
<use href="#moon" xlink:href="#moon" x="248.38" y="113.5"/>
<use href="#moon" xlink:href="#moon" x="282.91" y="113.5"/>
<use href="#sun" xlink:href="#sun" x="317.45" y="113.5"/>
<use href="#suncl" xlink:href="#suncl" x="351.98" y="113.5"/>
<use href="#ovn" xlink:href="#ovn" x="386.52" y="113.5"/>
<use href="#ovn" xlink:href="#ovn" x="421.05" y="113.5"/>
<use href="#ovdr" xlink:href="#ovdr" x="455.59" y="113.5"/>
<use href="#ovdr" xlink:href="#ovdr" x="490.12" y="113.5"/>
<use href="#ovnr" xlink:href="#ovnr" x="524.66" y="113.5"/>
<use href="#ovnr" xlink:href="#ovnr" x="559.2" y="113.5"/>
<use href="#ovdr" xlink:href="#ovdr" x="593.73" y="113.5"/>
<use href="#ovdr" xlink:href="#ovdr" x="628.27" y="113.5"/>
<use href="#moonbc" xlink:href="#moonbc" x="662.8" y="113.5"/>
<use href="#moonbc" xlink:href="#moonbc" x="697.34" y="113.5"/>
<use href="#sunwc" xlink:href="#sunwc" x="731.88" y="113.5"/>
<use href="#suncl" xlink:href="#suncl" x="766.41" y="113.5"/>
<use href="#moonbc" xlink:href="#moonbc" x="800.95" y="113.5"/>
<use href="#moonbc" xlink:href="#moonbc" x="835.48" y="113.5"/>
<use href="#suncl" xlink:href="#suncl" x="870.02" y="113.5"/>
<use href="#ovd" xlink:href="#ovd" x="904.55" y="113.5"/>
<use href="#moonsc" xlink:href="#moonsc" x="939.09" y="113.5"/>
<use href="#moonsc" xlink:href="#moonsc" x="973.62" y="113.5"/>
<use href="#sun" xlink:href="#sun" x="1008.16" y="113.5"/>
<use href="#sun" xlink:href="#sun" x="1042.7" y="113.5"/>
<use href="#moonsc" xlink:href="#moonsc" x="1077.23" y="113.5"/>
<line x1="219.1" y1="97.5" x2="219.1" y2="135" stroke="#000" stroke-width="1.8" stroke-dasharray="5.8 2.6"/>
<text x="9.9" y="22.3" font-size="15.9" fill="#0000ff" textLength="203.25" lengthAdjust="spacingAndGlyphs">(kraj lahko izberete v meniju)</text>
<text x="398.8" y="36.9" font-size="22" fill="#0000ff" textLength="152.16" lengthAdjust="spacingAndGlyphs" stroke="#0000ff" stroke-width="0.3">Malinska 7 dni</text>
<text x="861.68" y="22.3" font-size="15.9" fill="#0000ff" textLength="281.12" lengthAdjust="spacingAndGlyphs">Zadnja posodobitev: 21.12.2025 - 16:05</text>
<text x="163.89" y="69.3" font-size="18.02" fill="#cc0000" textLength="62.85" lengthAdjust="spacingAndGlyphs" stroke="#cc0000" stroke-width="0.1">nedelja</text>
<text x="171.01" y="89.6" font-size="18.02" fill="#cc0000" textLength="49.47" lengthAdjust="spacingAndGlyphs" stroke="#cc0000" stroke-width="0.1">21.12</text>
<text x="285.85" y="69.3" font-size="18.02" fill="#000" textLength="96.67" lengthAdjust="spacingAndGlyphs" stroke="#000" stroke-width="0.1">ponedeljek</text>
<text x="309.16" y="89.6" font-size="18.02" fill="#000" textLength="49.47" lengthAdjust="spacingAndGlyphs" stroke="#000" stroke-width="0.1">22.12</text>
<text x="449.53" y="69.3" font-size="18.02" fill="#000" textLength="45.51" lengthAdjust="spacingAndGlyphs" stroke="#000" stroke-width="0.1">torek</text>
<text x="447.3" y="89.6" font-size="18.02" fill="#000" textLength="49.47" lengthAdjust="spacingAndGlyphs" stroke="#000" stroke-width="0.1">23.12</text>
<text x="586.31" y="69.3" font-size="18.02" fill="#000" textLength="46.98" lengthAdjust="spacingAndGlyphs" stroke="#000" stroke-width="0.1">sreda</text>
<text x="585.44" y="89.6" font-size="18.02" fill="#000" textLength="49.47" lengthAdjust="spacingAndGlyphs" stroke="#000" stroke-width="0.1">24.12</text>
<text x="717.27" y="69.3" font-size="18.02" fill="#000" textLength="62.61" lengthAdjust="spacingAndGlyphs" stroke="#000" stroke-width="0.1">četrtek</text>
<text x="723.59" y="89.6" font-size="18.02" fill="#000" textLength="49.47" lengthAdjust="spacingAndGlyphs" stroke="#000" stroke-width="0.1">25.12</text>
<text x="861.89" y="69.3" font-size="18.02" fill="#000" textLength="49.77" lengthAdjust="spacingAndGlyphs" stroke="#000" stroke-width="0.1">petek</text>
<text x="861.73" y="89.6" font-size="18.02" fill="#000" textLength="49.47" lengthAdjust="spacingAndGlyphs" stroke="#000" stroke-width="0.1">26.12</text>
<text x="995.32" y="69.3" font-size="18.02" fill="#cc0000" textLength="57.79" lengthAdjust="spacingAndGlyphs" stroke="#cc0000" stroke-width="0.1">sobota</text>
<text x="999.87" y="89.6" font-size="18.02" fill="#cc0000" textLength="49.47" lengthAdjust="spacingAndGlyphs" stroke="#cc0000" stroke-width="0.1">27.12</text>
<text x="151.16" y="376.6" font-size="18.02" fill="#000" textLength="21.85" lengthAdjust="spacingAndGlyphs" stroke="#000" stroke-width="0.1">06</text>
<text x="185.85" y="376.6" font-size="18.02" fill="#000" textLength="21.15" lengthAdjust="spacingAndGlyphs" stroke="#000" stroke-width="0.1">12</text>
<text x="220.35" y="376.6" font-size="18.02" fill="#000" textLength="21.63" lengthAdjust="spacingAndGlyphs" stroke="#000" stroke-width="0.1">18</text>
<text x="289.3" y="376.6" font-size="18.02" fill="#000" textLength="21.85" lengthAdjust="spacingAndGlyphs" stroke="#000" stroke-width="0.1">06</text>
<text x="323.99" y="376.6" font-size="18.02" fill="#000" textLength="21.15" lengthAdjust="spacingAndGlyphs" stroke="#000" stroke-width="0.1">12</text>
<text x="358.49" y="376.6" font-size="18.02" fill="#000" textLength="21.63" lengthAdjust="spacingAndGlyphs" stroke="#000" stroke-width="0.1">18</text>
<text x="249.34" y="376.6" font-size="18.02" fill="#000" textLength="32.75" lengthAdjust="spacingAndGlyphs" stroke="#000" stroke-width="0.1">pon</text>
<text x="427.44" y="376.6" font-size="18.02" fill="#000" textLength="21.85" lengthAdjust="spacingAndGlyphs" stroke="#000" stroke-width="0.1">06</text>
<text x="462.13" y="376.6" font-size="18.02" fill="#000" textLength="21.15" lengthAdjust="spacingAndGlyphs" stroke="#000" stroke-width="0.1">12</text>
<text x="496.64" y="376.6" font-size="18.02" fill="#000" textLength="21.63" lengthAdjust="spacingAndGlyphs" stroke="#000" stroke-width="0.1">18</text>
<text x="391.4" y="376.6" font-size="18.02" fill="#000" textLength="25.25" lengthAdjust="spacingAndGlyphs" stroke="#000" stroke-width="0.1">tor</text>
<text x="565.58" y="376.6" font-size="18.02" fill="#000" textLength="21.85" lengthAdjust="spacingAndGlyphs" stroke="#000" stroke-width="0.1">06</text>
<text x="600.27" y="376.6" font-size="18.02" fill="#000" textLength="21.15" lengthAdjust="spacingAndGlyphs" stroke="#000" stroke-width="0.1">12</text>
<text x="634.78" y="376.6" font-size="18.02" fill="#000" textLength="21.63" lengthAdjust="spacingAndGlyphs" stroke="#000" stroke-width="0.1">18</text>
<text x="528.85" y="376.6" font-size="18.02" fill="#000" textLength="26.51" lengthAdjust="spacingAndGlyphs" stroke="#000" stroke-width="0.1">sre</text>
<text x="703.73" y="376.6" font-size="18.02" fill="#000" textLength="21.85" lengthAdjust="spacingAndGlyphs" stroke="#000" stroke-width="0.1">06</text>
<text x="738.42" y="376.6" font-size="18.02" fill="#000" textLength="21.15" lengthAdjust="spacingAndGlyphs" stroke="#000" stroke-width="0.1">12</text>
<text x="772.92" y="376.6" font-size="18.02" fill="#000" textLength="21.63" lengthAdjust="spacingAndGlyphs" stroke="#000" stroke-width="0.1">18</text>
<text x="666.47" y="376.6" font-size="18.02" fill="#000" textLength="27.15" lengthAdjust="spacingAndGlyphs" stroke="#000" stroke-width="0.1">čet</text>
<text x="841.87" y="376.6" font-size="18.02" fill="#000" textLength="21.85" lengthAdjust="spacingAndGlyphs" stroke="#000" stroke-width="0.1">06</text>
<text x="876.56" y="376.6" font-size="18.02" fill="#000" textLength="21.15" lengthAdjust="spacingAndGlyphs" stroke="#000" stroke-width="0.1">12</text>
<text x="911.06" y="376.6" font-size="18.02" fill="#000" textLength="21.63" lengthAdjust="spacingAndGlyphs" stroke="#000" stroke-width="0.1">18</text>
<text x="803.96" y="376.6" font-size="18.02" fill="#000" textLength="28.58" lengthAdjust="spacingAndGlyphs" stroke="#000" stroke-width="0.1">pet</text>
<text x="980.01" y="376.6" font-size="18.02" fill="#000" textLength="21.85" lengthAdjust="spacingAndGlyphs" stroke="#000" stroke-width="0.1">06</text>
<text x="1014.7" y="376.6" font-size="18.02" fill="#000" textLength="21.15" lengthAdjust="spacingAndGlyphs" stroke="#000" stroke-width="0.1">12</text>
<text x="1049.21" y="376.6" font-size="18.02" fill="#000" textLength="21.63" lengthAdjust="spacingAndGlyphs" stroke="#000" stroke-width="0.1">18</text>
<text x="941.14" y="376.6" font-size="18.02" fill="#000" textLength="30.71" lengthAdjust="spacingAndGlyphs" stroke="#000" stroke-width="0.1">sob</text>
<text x="112.86" y="365.2" font-size="18.02" fill="#000" textLength="10.34" lengthAdjust="spacingAndGlyphs" stroke="#000" stroke-width="0.1">0</text>
<text x="113.08" y="327.83" font-size="18.02" fill="#000" textLength="9.83" lengthAdjust="spacingAndGlyphs" stroke="#000" stroke-width="0.1">1</text>
<text x="112.89" y="290.46" font-size="18.02" fill="#000" textLength="9.94" lengthAdjust="spacingAndGlyphs" stroke="#000" stroke-width="0.1">2</text>
<text x="113.07" y="253.09" font-size="18.02" fill="#000" textLength="9.93" lengthAdjust="spacingAndGlyphs" stroke="#000" stroke-width="0.1">3</text>
<text x="112.97" y="215.72" font-size="18.02" fill="#000" textLength="10.31" lengthAdjust="spacingAndGlyphs" stroke="#000" stroke-width="0.1">4</text>
<text x="113.08" y="178.35" font-size="18.02" fill="#000" textLength="9.83" lengthAdjust="spacingAndGlyphs" stroke="#000" stroke-width="0.1">5</text>
<text x="1098.69" y="178.25" font-size="18.02" fill="#000" textLength="21.61" lengthAdjust="spacingAndGlyphs" stroke="#000" stroke-width="0.1">14</text>
<text x="1098.46" y="215.62" font-size="18.02" fill="#000" textLength="27.38" lengthAdjust="spacingAndGlyphs" stroke="#000" stroke-width="0.1">9.0</text>
<text x="1098.45" y="252.99" font-size="18.02" fill="#000" textLength="27.39" lengthAdjust="spacingAndGlyphs" stroke="#000" stroke-width="0.1">6.0</text>
<text x="1098.75" y="290.36" font-size="18.02" fill="#000" textLength="26.81" lengthAdjust="spacingAndGlyphs" stroke="#000" stroke-width="0.1">3.5</text>
<text x="1098.69" y="326.13" font-size="18.02" fill="#000" textLength="26.88" lengthAdjust="spacingAndGlyphs" stroke="#000" stroke-width="0.1">1.5</text>
<text x="1098.6" y="365.1" font-size="18.02" fill="#000" textLength="10.34" lengthAdjust="spacingAndGlyphs" stroke="#000" stroke-width="0.1">0</text>
<text x="46.8" y="179.35" font-size="18.02" fill="#ff0000" textLength="21.45" lengthAdjust="spacingAndGlyphs" stroke="#ff0000" stroke-width="0.1">17</text>
<text x="46.81" y="216.72" font-size="18.02" fill="#ff0000" textLength="21.33" lengthAdjust="spacingAndGlyphs" stroke="#ff0000" stroke-width="0.1">13</text>
<text x="46.59" y="254.09" font-size="18.02" fill="#ff0000" textLength="10.57" lengthAdjust="spacingAndGlyphs" stroke="#ff0000" stroke-width="0.1">9</text>
<text x="46.92" y="291.46" font-size="18.02" fill="#ff0000" textLength="9.83" lengthAdjust="spacingAndGlyphs" stroke="#ff0000" stroke-width="0.1">5</text>
<text x="46.92" y="328.83" font-size="18.02" fill="#ff0000" textLength="9.83" lengthAdjust="spacingAndGlyphs" stroke="#ff0000" stroke-width="0.1">1</text>
<text x="46.33" y="366.2" font-size="18.02" fill="#ff0000" textLength="16.88" lengthAdjust="spacingAndGlyphs" stroke="#ff0000" stroke-width="0.1">-3</text>
<text x="35.6" y="348" font-size="20" fill="#ff0000" textLength="164.66" lengthAdjust="spacingAndGlyphs" stroke="#ff0000" stroke-width="0.3" transform="rotate(-90 35.6 348)">Temperatura (°C)</text>
<text x="99.8" y="346.3" font-size="19.52" fill="#000" textLength="165.63" lengthAdjust="spacingAndGlyphs" stroke="#000" stroke-width="0.1" transform="rotate(-90 99.6 346.3)">Padavine (mm/h)</text>
<text x="1142.68" y="349.6" font-size="17.59" fill="#000" textLength="189.78" lengthAdjust="spacingAndGlyphs" stroke="#000" stroke-width="0.1" transform="rotate(-90 1142.6 349.6)">Višina oblakov (km)</text>
<text x="162.17" y="322.3" font-size="19.52" fill="#000" textLength="10.76" lengthAdjust="spacingAndGlyphs" stroke="#000" stroke-width="0.1">3</text>
<text x="195.67" y="233.2" font-size="19.52" fill="#000" textLength="23.11" lengthAdjust="spacingAndGlyphs" stroke="#000" stroke-width="0.1">13</text>
<text x="283.17" y="322.9" font-size="19.52" fill="#000" textLength="10.76" lengthAdjust="spacingAndGlyphs" stroke="#000" stroke-width="0.1">3</text>
<text x="328.05" y="244.8" font-size="19.52" fill="#000" textLength="23.24" lengthAdjust="spacingAndGlyphs" stroke="#000" stroke-width="0.1">11</text>
<text x="408.88" y="302.3" font-size="19.52" fill="#000" textLength="10.65" lengthAdjust="spacingAndGlyphs" stroke="#000" stroke-width="0.1">5</text>
<text x="466.65" y="244.8" font-size="19.52" fill="#000" textLength="23.24" lengthAdjust="spacingAndGlyphs" stroke="#000" stroke-width="0.1">11</text>
<text x="565.28" y="303.6" font-size="19.52" fill="#000" textLength="10.65" lengthAdjust="spacingAndGlyphs" stroke="#000" stroke-width="0.1">5</text>
<text x="604.83" y="266.2" font-size="19.52" fill="#000" textLength="11.45" lengthAdjust="spacingAndGlyphs" stroke="#000" stroke-width="0.1">9</text>
<text x="692.07" y="327.6" font-size="19.52" fill="#000" textLength="10.76" lengthAdjust="spacingAndGlyphs" stroke="#000" stroke-width="0.1">3</text>
<text x="749.03" y="273.6" font-size="19.52" fill="#000" textLength="11.44" lengthAdjust="spacingAndGlyphs" stroke="#000" stroke-width="0.1">8</text>
<text x="835.08" y="340.7" font-size="19.52" fill="#000" textLength="10.65" lengthAdjust="spacingAndGlyphs" stroke="#000" stroke-width="0.1">1</text>
<text x="886.53" y="273.6" font-size="19.52" fill="#000" textLength="11.44" lengthAdjust="spacingAndGlyphs" stroke="#000" stroke-width="0.1">8</text>
<text x="979.18" y="341.6" font-size="19.52" fill="#000" textLength="10.65" lengthAdjust="spacingAndGlyphs" stroke="#000" stroke-width="0.1">1</text>
<text x="1025.63" y="273.6" font-size="19.52" fill="#000" textLength="11.44" lengthAdjust="spacingAndGlyphs" stroke="#000" stroke-width="0.1">8</text>
<text x="1088.87" y="325.2" font-size="19.52" fill="#000" textLength="10.76" lengthAdjust="spacingAndGlyphs" stroke="#000" stroke-width="0.1">3</text>
<rect x="126.8" y="390" width="32" height="10.8" fill="#0050ff"/>
<rect x="164.9" y="385.8" width="104.8" height="20" fill="#fff"/>
<rect x="277.6" y="390" width="32.3" height="10.8" fill="#0dd6c4"/>
<rect x="309.9" y="385.8" width="110" height="20" fill="#fff"/>
<text x="558.6" y="401.4" font-size="15" fill="#0000ff" textLength="172.54" lengthAdjust="spacingAndGlyphs" stroke="#0000ff" stroke-width="0.3">© vreme.us &amp; vreme.pro</text>
<rect x="759.8" y="386.5" width="179.6" height="19.3" fill="#fff"/>
<text x="759" y="401.5" font-size="18" fill="#000" textLength="176.12" lengthAdjust="spacingAndGlyphs" stroke="#000" stroke-width="0.3">Gostota oblakov (%)</text>
<rect x="949" y="385.4" width="29.2" height="13" fill="#d3d3d3"/>
<rect x="978" y="385.4" width="29.2" height="13" fill="#b4b4b4"/>
<rect x="1007" y="385.4" width="29.2" height="13" fill="#949494"/>
<rect x="1036" y="385.4" width="29.2" height="13" fill="#747474"/>
<rect x="1065" y="385.4" width="29.2" height="13" fill="#555555"/>
<rect x="949.2" y="385.4" width="145.2" height="13" fill="none" stroke="#111" stroke-width="0.8"/>
<text x="939.15" y="414.8" font-size="17.49" fill="#000" textLength="19.73" lengthAdjust="spacingAndGlyphs" stroke="#000" stroke-width="0.1">10</text>
<text x="968.03" y="414.8" font-size="17.49" fill="#000" textLength="19.61" lengthAdjust="spacingAndGlyphs" stroke="#000" stroke-width="0.1">25</text>
<text x="997.2" y="414.8" font-size="17.49" fill="#000" textLength="19.67" lengthAdjust="spacingAndGlyphs" stroke="#000" stroke-width="0.1">50</text>
<text x="1026.11" y="414.8" font-size="17.49" fill="#000" textLength="19.52" lengthAdjust="spacingAndGlyphs" stroke="#000" stroke-width="0.1">75</text>
<text x="1054.94" y="414.8" font-size="17.49" fill="#000" textLength="19.94" lengthAdjust="spacingAndGlyphs" stroke="#000" stroke-width="0.1">90</text>
<text x="1079.27" y="414.8" font-size="17.49" fill="#000" textLength="30.15" lengthAdjust="spacingAndGlyphs" stroke="#000" stroke-width="0.1">100</text>
</svg></body></html>
